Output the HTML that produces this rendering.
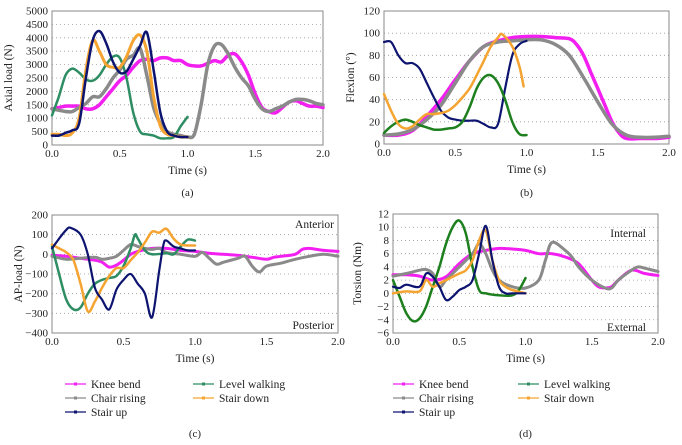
<!DOCTYPE html>
<html><head><meta charset="utf-8">
<style>
body{margin:0;background:#fff;}
svg{display:block;}
svg text{font-family:"Liberation Serif","Times New Roman",serif;}
</style></head>
<body>
<svg id="chart" width="682" height="445" viewBox="0 0 682 445" xmlns="http://www.w3.org/2000/svg" font-family="Liberation Serif, serif"></svg>
<script>
// ---------- data ----------
const seriesNames = ["Knee bend","Chair rising","Stair up","Level walking","Stair down"];
const xTicks = [0,0.5,1.0,1.5,2.0];
const xTickLabels = ["0.0","0.5","1.0","1.5","2.0"];

// Panel (a) Axial load
const aTicks = [0,500,1000,1500,2000,2500,3000,3500,4000,4500,5000];
const aKneeT = [0,0.05,0.1,0.15,0.2,0.25,0.3,0.35,0.4,0.45,0.5,0.55,0.6,0.65,0.7,0.75,0.8,0.85,0.9,0.95,1.0,1.05,1.1,1.15,1.2,1.25,1.3,1.35,1.4,1.45,1.5,1.55,1.6,1.65,1.7,1.75,1.8,1.85,1.9,1.95,2.0];
const aKneeV = [1350,1400,1450,1450,1450,1350,1350,1500,1800,2100,2400,2600,2900,3150,3200,3150,3250,3250,3150,3150,3000,2950,2950,3050,3150,3100,3350,3400,3100,2600,1900,1400,1250,1200,1400,1600,1650,1550,1450,1450,1400];
const aChairT = [0,0.1,0.15,0.2,0.25,0.3,0.35,0.4,0.45,0.5,0.55,0.6,0.65,0.7,0.75,0.8,0.85,0.9,0.95,1.0,1.05,1.1,1.15,1.2,1.25,1.3,1.35,1.4,1.45,1.5,1.55,1.6,1.65,1.7,1.75,1.8,1.85,1.9,1.95,2.0];
const aChairV = [1350,1250,1250,1400,1550,1800,1800,2100,2500,2800,3200,3350,3600,2600,1400,800,500,400,350,300,400,1500,3000,3700,3750,3400,2900,2500,2200,1700,1350,1250,1350,1450,1600,1700,1700,1650,1550,1500];
const aUpT = [0,0.05,0.1,0.15,0.2,0.25,0.3,0.35,0.4,0.45,0.5,0.55,0.6,0.65,0.7,0.75,0.8,0.85,0.9,0.95,1.0];
const aUpV = [350,350,450,550,800,2500,3900,4250,3800,3100,2700,2750,3200,3700,4200,2800,1200,500,350,300,300];
const aWalkT = aUpT;
const aWalkV = [1100,1800,2600,2850,2700,2450,2400,2600,3000,3300,3250,2500,1200,500,400,350,250,250,300,700,1050];
const aDownT = aUpT;
const aDownV = [400,400,350,450,1000,2800,3900,3500,3000,2900,2900,3300,3900,4100,3500,1800,700,400,350,300,300];

// Panel (b) Flexion
const bTicks = [0,20,40,60,80,100,120];
const bKneeT = [0,0.1,0.2,0.3,0.4,0.5,0.6,0.7,0.8,0.9,1.0,1.1,1.2,1.3,1.35,1.4,1.45,1.5,1.55,1.6,1.65,1.7,1.8,1.9,2.0];
const bKneeV = [8,8,12,25,40,58,75,88,93,96,97,97,96,95,90,80,65,50,35,20,10,5,5,5,6];
const bChairT = [0,0.1,0.2,0.3,0.4,0.5,0.6,0.7,0.8,0.9,1.0,1.1,1.2,1.3,1.4,1.5,1.6,1.7,1.8,1.9,2.0];
const bChairV = [8,9,13,22,35,55,75,88,92,93,94,94,90,80,60,38,18,8,6,6,7];
const bUpT = [0,0.05,0.1,0.15,0.2,0.25,0.3,0.35,0.4,0.45,0.5,0.55,0.6,0.65,0.7,0.75,0.8,0.85,0.9,0.95,1.0];
const bUpV = [92,92,80,73,73,68,55,42,30,24,22,21,21,21,18,15,18,50,80,90,93];
const bWalkT = bUpT;
const bWalkV = [10,16,20,22,20,17,15,13,13,14,15,20,33,50,60,62,55,40,20,9,8];
const bDownT = [0,0.05,0.1,0.15,0.2,0.25,0.3,0.35,0.4,0.45,0.5,0.55,0.6,0.65,0.7,0.75,0.8,0.83,0.9,0.95,0.98];
const bDownV = [45,30,18,14,16,22,27,27,28,30,35,42,50,62,75,88,96,99,88,70,52];

// Panel (c) AP load
const cTicks = [-400,-300,-200,-100,0,100,200];
const cKneeT = [0,0.1,0.2,0.3,0.35,0.4,0.45,0.5,0.55,0.6,0.7,0.8,0.9,1.0,1.1,1.2,1.3,1.4,1.5,1.55,1.6,1.7,1.75,1.8,1.9,2.0];
const cKneeV = [-5,-10,-20,-30,-40,-65,-55,-30,0,15,30,30,20,15,5,0,-5,-15,-25,-15,-10,0,25,30,20,15];
const cChairT = [0,0.1,0.2,0.3,0.35,0.4,0.45,0.5,0.55,0.6,0.65,0.7,0.75,0.8,0.9,1.0,1.05,1.1,1.15,1.2,1.3,1.35,1.4,1.45,1.5,1.6,1.7,1.8,1.9,2.0];
const cChairV = [-10,-25,-20,-15,-25,-20,-10,20,50,40,30,25,30,10,0,-10,10,-20,-50,-40,-20,-10,-60,-90,-60,-45,-25,-10,0,-10];
const cUpT = [0,0.05,0.1,0.13,0.2,0.25,0.3,0.35,0.4,0.45,0.5,0.55,0.6,0.65,0.7,0.75,0.78,0.8,0.85,0.9,0.95,1.0];
const cUpV = [30,80,125,135,100,0,-170,-230,-280,-180,-130,-100,-150,-200,-320,-80,50,70,40,30,20,20];
const cWalkT = [0,0.05,0.1,0.15,0.2,0.25,0.3,0.35,0.4,0.45,0.5,0.55,0.58,0.6,0.65,0.7,0.8,0.85,0.9,0.95,1.0];
const cWalkV = [40,-100,-230,-280,-270,-200,-150,-130,-120,-110,-60,30,100,80,20,0,5,0,40,75,70];
const cDownT = [0,0.05,0.1,0.15,0.2,0.25,0.3,0.35,0.4,0.45,0.5,0.55,0.6,0.65,0.7,0.75,0.8,0.85,0.9,0.95,1.0];
const cDownV = [50,30,10,-30,-150,-290,-240,-170,-110,-70,-70,-30,10,60,115,110,130,80,50,45,45];

// Panel (d) Torsion
const dTicks = [-6,-4,-2,0,2,4,6,8,10,12];
const dKneeT = [0,0.1,0.2,0.3,0.4,0.5,0.6,0.7,0.8,0.9,1.0,1.1,1.2,1.3,1.4,1.5,1.55,1.6,1.65,1.7,1.8,1.9,2.0];
const dKneeV = [2.8,2.8,2.6,2,2.5,4.5,6,6.5,6.8,6.7,6.5,6,6,5.5,4.5,2,1,0.8,1,2,3.5,3,2.7];
const dChairT = [0,0.1,0.2,0.25,0.3,0.35,0.4,0.5,0.6,0.65,0.7,0.75,0.8,0.9,1.0,1.1,1.15,1.2,1.3,1.35,1.4,1.5,1.6,1.65,1.7,1.8,1.85,1.9,2.0];
const dChairV = [2.6,3,3.5,3.6,3,1,2,4,6,7.5,6,3.5,2,1,0.8,2,5,7.7,6.5,5.5,4,2,0.8,0.8,2,3.5,4,3.8,3.3];
const dUpT = [0,0.05,0.1,0.2,0.25,0.3,0.35,0.4,0.45,0.5,0.55,0.6,0.65,0.7,0.75,0.8,0.85,0.9,1.0];
const dUpV = [1,0.8,1.3,1,3,2.5,1,-1,-0.5,0.5,1,2,6,10.2,5,1,0,0,0];
const dWalkT = [0,0.05,0.1,0.15,0.2,0.25,0.3,0.35,0.4,0.45,0.5,0.55,0.6,0.65,0.7,0.8,0.9,0.95,1.0];
const dWalkV = [2,-0.5,-3,-4.2,-3.8,-2,1,4,7.5,10,11,9,4,0.5,0,-0.3,-0.3,0.5,2.3];
const dDownT = [0,0.1,0.2,0.25,0.3,0.35,0.4,0.5,0.55,0.6,0.65,0.7,0.75,0.8,0.85,0.9,1.0];
const dDownV = [0,0.3,0.3,2,1,1.5,2,3,3.5,5,8,9.5,5,2,1,0.5,0];

// ---------- drawing ----------
const NS="http://www.w3.org/2000/svg";
const svg=document.getElementById('chart');
function mk(tag,attrs,parent){const e=document.createElementNS(NS,tag);for(const k in attrs)e.setAttribute(k,attrs[k]);(parent||svg).appendChild(e);return e;}
function txt(x,y,s,size,anchor,parent,extra){const e=mk('text',Object.assign({x:x,y:y,'font-size':size,'text-anchor':anchor||'middle',fill:'#222','font-family':'Liberation Serif, serif'},extra||{}),parent);e.textContent=s;return e;}
function smooth(pts){let d='M'+pts[0][0].toFixed(1)+','+pts[0][1].toFixed(1);
 for(let i=0;i<pts.length-1;i++){const p0=pts[Math.max(i-1,0)],p1=pts[i],p2=pts[i+1],p3=pts[Math.min(i+2,pts.length-1)];
  const c1=[p1[0]+(p2[0]-p0[0])/6,p1[1]+(p2[1]-p0[1])/6],c2=[p2[0]-(p3[0]-p1[0])/6,p2[1]-(p3[1]-p1[1])/6];
  d+=' C'+c1[0].toFixed(1)+','+c1[1].toFixed(1)+' '+c2[0].toFixed(1)+','+c2[1].toFixed(1)+' '+p2[0].toFixed(1)+','+p2[1].toFixed(1);}
 return d;}

function panel(cfg){
 const g=mk('g',{});
 
 
 const L=cfg.L,R=cfg.R,T=cfg.T,B=cfg.B,ymin=cfg.ticks[0],ymax=cfg.ticks[cfg.ticks.length-1];
 const xs=t=>L+(t/2)*(R-L), ys=v=>B-(v-ymin)/(ymax-ymin)*(B-T);
 cfg.ticks.forEach((v,i)=>{
  if(i>0&&i<cfg.ticks.length-1){const gl=mk('line',{x1:L,x2:R,y1:ys(v),y2:ys(v),stroke:'#999','stroke-width':0.8,'stroke-dasharray':'1,3'},g);
   }
  const tl=txt(L-4,ys(v)+3.5,v<0?'\u2212'+(-v):String(v),11,'end',g);
  
 });
 const fr=mk('rect',{x:L,y:T,width:R-L,height:B-T,fill:'none',stroke:'#888','stroke-width':1},g);
 
 xTicks.forEach((t,i)=>{const xl=txt(xs(t),B+12,xTickLabels[i],11,'middle',g);
  });
 const xt=txt((L+R)/2,B+29,'Time (s)',11.5,'middle',g);
 
 const cy=(T+B)/2;
 const yt=txt(cfg.ytx,cy,cfg.ytitle,11.5,'middle',g,{transform:'rotate(-90 '+cfg.ytx+' '+cy+')'});
 
 const cl=txt((L+R)/2,cfg.capY,cfg.cap,11,'middle',g);
 
 cfg.series.forEach(s=>{const pts=s.t.map((t,i)=>[xs(t),ys(s.v[i])]);
  const p=mk('path',{d:smooth(pts),fill:'none',stroke:s.c,'stroke-width':s.w,'stroke-linejoin':'round','stroke-linecap':'round'},g);
  });
 (cfg.notes||[]).forEach(n=>{const e=txt(n[0],n[1],n[2],11.5,'end',g);
  });
}
const MAG='#f21ff0',GRY='#8a8a8a',NAV='#0d1470',ORG='#f5a431',TEAL='#2e8d63',GRN='#1d7f1d';
function S(n,t,v,c,w){return {n:n,t:t,v:v,c:c,w:w};}

panel({name:'panel-a-axial-load',L:52,R:323,T:11,B:145,ticks:aTicks,ytitle:'Axial load (N)',ytx:12,cap:'(a)',capY:196,series:[
 S('series-knee-bend',aKneeT,aKneeV,MAG,3.5),S('series-chair-rising',aChairT,aChairV,GRY,3.5),
 S('series-level-walking',aWalkT,aWalkV,TEAL,2.5),S('series-stair-down',aDownT,aDownV,ORG,3),S('series-stair-up',aUpT,aUpV,NAV,2.5)]});
panel({name:'panel-b-flexion',L:384,R:669,T:11,B:144,ticks:bTicks,ytitle:'Flexion (\u00b0)',ytx:354,cap:'(b)',capY:196,series:[
 S('series-knee-bend',bKneeT,bKneeV,MAG,3.5),S('series-chair-rising',bChairT,bChairV,GRY,3.5),
 S('series-stair-up',bUpT,bUpV,NAV,2.2),S('series-level-walking',bWalkT,bWalkV,GRN,2.5),S('series-stair-down',bDownT,bDownV,ORG,2.5)]});
panel({name:'panel-c-ap-load',L:52,R:338,T:215,B:333,ticks:cTicks,ytitle:'AP-load (N)',ytx:22,cap:'(c)',capY:437,
 notes:[[334,228,'Anterior'],[334,329,'Posterior']],series:[
 S('series-knee-bend',cKneeT,cKneeV,MAG,3),S('series-chair-rising',cChairT,cChairV,GRY,3),
 S('series-level-walking',cWalkT,cWalkV,TEAL,2.5),S('series-stair-down',cDownT,cDownV,ORG,2.5),S('series-stair-up',cUpT,cUpV,NAV,2.2)]});
panel({name:'panel-d-torsion',L:393,R:658,T:214,B:333,ticks:dTicks,ytitle:'Torsion (Nm)',ytx:361,cap:'(d)',capY:437,
 notes:[[646,237,'Internal'],[646,331,'External']],series:[
 S('series-knee-bend',dKneeT,dKneeV,MAG,3),S('series-chair-rising',dChairT,dChairV,GRY,3),
 S('series-level-walking',dWalkT,dWalkV,GRN,2.5),S('series-stair-down',dDownT,dDownV,ORG,2.5),S('series-stair-up',dUpT,dUpV,NAV,2.2)]});

// legends
const legColors=[MAG,GRY,NAV,TEAL,ORG];
const legPos=[[0,0],[0,1],[0,2],[1,0],[1,1]];
[[65,193],[393,518]].forEach((xsL,pi)=>{
 const lg=mk('g',{});
 
 
 seriesNames.forEach((nm,i)=>{const x=xsL[legPos[i][0]],y=384+legPos[i][1]*14;
  const e=mk('g',{},lg);
  
  
  mk('line',{x1:x,x2:x+21,y1:y,y2:y,stroke:legColors[i],'stroke-width':1.2},e);
  mk('rect',{x:x+9,y:y-1.5,width:3,height:3,fill:legColors[i]},e);
  txt(x+26,y+4,nm,11.5,'start',e);});
});
</script>
</body></html>
